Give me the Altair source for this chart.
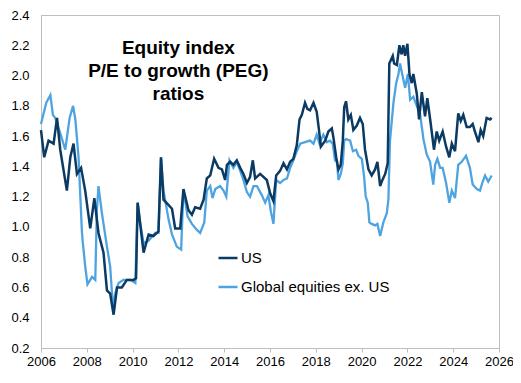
import altair as alt
import pandas as pd

us_years = [2006.00, 2006.14, 2006.33, 2006.55, 2006.70, 2006.84, 2007.13, 2007.28, 2007.42, 2007.57,
            2007.75, 2007.93, 2008.15, 2008.33, 2008.51, 2008.73, 2008.88, 2009.02, 2009.17, 2009.32,
            2009.53, 2009.75, 2010.04, 2010.15, 2010.22, 2010.48, 2010.70, 2010.91, 2011.13, 2011.24,
            2011.35, 2011.72, 2011.86, 2012.08, 2012.22, 2012.44, 2012.59, 2012.73, 2012.95, 2013.10,
            2013.24, 2013.39, 2013.56, 2013.75, 2013.90, 2014.04, 2014.12, 2014.26, 2014.40, 2014.55,
            2014.70, 2014.84, 2014.99, 2015.13, 2015.25, 2015.35, 2015.57, 2015.86, 2016.01, 2016.15,
            2016.27, 2016.44, 2016.59, 2016.74, 2016.88, 2017.02, 2017.17, 2017.29, 2017.39, 2017.53,
            2017.63, 2017.75, 2017.90, 2018.04, 2018.14, 2018.22, 2018.41, 2018.55, 2018.70, 2018.77,
            2018.89, 2018.99, 2019.09, 2019.18, 2019.24, 2019.32, 2019.42, 2019.53, 2019.64, 2019.79,
            2019.93, 2020.05, 2020.15, 2020.30, 2020.44, 2020.59, 2020.69, 2020.81, 2020.88, 2021.03,
            2021.14, 2021.21, 2021.36, 2021.42, 2021.54, 2021.65, 2021.75, 2021.82, 2021.90, 2022.00,
            2022.09, 2022.19, 2022.26, 2022.41, 2022.51, 2022.63, 2022.77, 2022.87, 2023.02, 2023.16,
            2023.28, 2023.39, 2023.54, 2023.69, 2023.83, 2023.94, 2024.08, 2024.22, 2024.33, 2024.44,
            2024.59, 2024.73, 2024.85, 2024.95, 2025.10, 2025.20, 2025.31, 2025.46, 2025.61, 2025.68]
us_vals = [1.64, 1.46, 1.57, 1.55, 1.72, 1.51, 1.24, 1.46, 1.55, 1.35,
           1.39, 1.24, 0.99, 1.19, 0.96, 0.83, 0.58, 0.56, 0.42, 0.60,
           0.60, 0.65, 0.65, 0.66, 1.16, 0.83, 0.95, 0.94, 0.97, 1.46,
           1.18, 1.12, 0.99, 0.99, 1.25, 1.11, 1.08, 1.13, 1.12, 1.18,
           1.32, 1.34, 1.45, 1.39, 1.38, 1.31, 1.41, 1.43, 1.41, 1.44,
           1.39, 1.35, 1.29, 1.33, 1.44, 1.32, 1.35, 1.31, 1.22, 1.17,
           1.34, 1.37, 1.42, 1.38, 1.43, 1.45, 1.54, 1.71, 1.74, 1.82,
           1.78, 1.77, 1.82, 1.76, 1.64, 1.53, 1.57, 1.63, 1.65, 1.59,
           1.46, 1.38, 1.41, 1.57, 1.79, 1.83, 1.71, 1.74, 1.64, 1.67,
           1.72, 1.68, 1.51, 1.38, 1.34, 1.38, 1.43, 1.27, 1.30, 1.35,
           1.42, 2.08, 2.13, 2.08, 2.07, 2.20, 2.14, 2.20, 2.13, 2.21,
           2.01, 1.95, 2.01, 1.88, 1.71, 1.89, 1.73, 1.85, 1.68, 1.51,
           1.63, 1.57, 1.63, 1.53, 1.46, 1.55, 1.50, 1.75, 1.70, 1.74,
           1.66, 1.66, 1.68, 1.63, 1.56, 1.64, 1.60, 1.72, 1.71, 1.72]

gl_years = [2006.00, 2006.23, 2006.41, 2006.52, 2006.62, 2006.84, 2007.06, 2007.25, 2007.40, 2007.50,
            2007.64, 2007.79, 2007.83, 2007.93, 2008.03, 2008.23, 2008.37, 2008.44, 2008.51, 2008.66,
            2008.88, 2009.02, 2009.14, 2009.24, 2009.39, 2009.60, 2009.90, 2010.12, 2010.22, 2010.33,
            2010.48, 2010.70, 2010.99, 2011.13, 2011.24, 2011.35, 2011.57, 2011.72, 2011.93, 2012.12,
            2012.22, 2012.40, 2012.59, 2012.81, 2012.95, 2013.13, 2013.24, 2013.39, 2013.49, 2013.61,
            2013.82, 2013.97, 2014.09, 2014.23, 2014.40, 2014.55, 2014.70, 2014.84, 2014.99, 2015.13,
            2015.28, 2015.43, 2015.64, 2015.79, 2015.93, 2016.04, 2016.15, 2016.27, 2016.44, 2016.59,
            2016.74, 2016.88, 2017.02, 2017.17, 2017.32, 2017.53, 2017.75, 2017.90, 2018.04, 2018.16,
            2018.33, 2018.48, 2018.62, 2018.74, 2018.84, 2018.92, 2018.99, 2019.09, 2019.18, 2019.24,
            2019.32, 2019.50, 2019.62, 2019.76, 2019.86, 2020.01, 2020.11, 2020.18, 2020.27, 2020.34,
            2020.44, 2020.59, 2020.69, 2020.81, 2020.95, 2021.10, 2021.17, 2021.24, 2021.39, 2021.51,
            2021.61, 2021.68, 2021.80, 2021.90, 2022.02, 2022.12, 2022.26, 2022.41, 2022.55, 2022.70,
            2022.84, 2022.99, 2023.13, 2023.21, 2023.31, 2023.43, 2023.54, 2023.69, 2023.83, 2023.94,
            2024.08, 2024.22, 2024.37, 2024.56, 2024.73, 2024.85, 2025.03, 2025.17, 2025.29, 2025.39,
            2025.53, 2025.68]
gl_vals = [1.68, 1.82, 1.87, 1.74, 1.72, 1.62, 1.51, 1.72, 1.80, 1.71,
           1.46, 0.96, 0.89, 0.74, 0.62, 0.67, 0.65, 1.11, 1.27, 1.09,
           0.87, 0.74, 0.47, 0.56, 0.63, 0.65, 0.65, 0.63, 1.16, 1.03,
           0.89, 0.91, 0.96, 0.96, 1.46, 1.24, 1.05, 0.95, 0.87, 0.85,
           1.25, 1.07, 1.02, 0.98, 0.96, 1.03, 1.24, 1.27, 1.19, 1.25,
           1.27, 1.24, 1.20, 1.44, 1.39, 1.43, 1.37, 1.31, 1.23, 1.20,
           1.27, 1.27, 1.21, 1.16, 1.21, 1.10, 1.02, 1.31, 1.29, 1.31,
           1.32, 1.39, 1.44, 1.50, 1.55, 1.56, 1.57, 1.55, 1.61, 1.55,
           1.61, 1.56, 1.57, 1.55, 1.44, 1.43, 1.31, 1.35, 1.42, 1.57,
           1.58, 1.57, 1.50, 1.51, 1.47, 1.45, 1.33, 1.20, 1.16, 1.03,
           1.02, 1.01, 1.02, 0.94, 1.03, 1.09, 1.18, 1.57, 1.82, 1.95,
           2.01, 2.08, 1.99, 1.92, 2.01, 1.84, 1.86, 1.80, 1.75, 1.58,
           1.48, 1.43, 1.28, 1.41, 1.45, 1.39, 1.39, 1.29, 1.16, 1.24,
           1.19, 1.41, 1.43, 1.47, 1.39, 1.28, 1.25, 1.24, 1.30, 1.34,
           1.30, 1.34]

series_names = ["US", "Global equities ex. US"]
series_colors = ["#0B3A63", "#4EA3E1"]
title_lines = "Equity index\nP/E to growth (PEG)\nratios"
x_ticks = [2006, 2008, 2010, 2012, 2014, 2016, 2018, 2020, 2022, 2024, 2026]
y_ticks = [0.2, 0.4, 0.6, 0.8, 1.0, 1.2, 1.4, 1.6, 1.8, 2.0, 2.2, 2.4]

us_df = pd.DataFrame({"year": us_years, "val": us_vals, "series": series_names[0]})
gl_df = pd.DataFrame({"year": gl_years, "val": gl_vals, "series": series_names[1]})
title_df = pd.DataFrame({"year": [2012.0], "val": [2.24], "t": [title_lines]})

FONT = "Liberation Sans"

x_axis = alt.Axis(values=x_ticks, format="d", title=None, grid=False,
                  tickSize=4, labelPadding=3, labelFontSize=13, labelColor="#000000",
                  labelFont=FONT, domainColor="#BDBDBD", tickColor="#BDBDBD",
                  labelOverlap=False, labelFlush=False)
y_axis = alt.Axis(values=y_ticks, format=".1f", title=None, grid=False,
                  ticks=False, labelPadding=12, labelFontSize=13, labelColor="#000000",
                  labelFont=FONT, domainColor="#BDBDBD",
                  labelOverlap=False, labelFlush=False, labelSeparation=0)

x_enc = alt.X("year:Q", scale=alt.Scale(domain=[2006, 2026], nice=False, zero=False), axis=x_axis)
y_enc = alt.Y("val:Q", scale=alt.Scale(domain=[0.2, 2.4], nice=False, zero=False), axis=y_axis)
color_enc = alt.Color("series:N",
                      scale=alt.Scale(domain=series_names, range=series_colors),
                      legend=alt.Legend(title=None, orient="none", legendX=176, legendY=232,
                                        symbolType="stroke", symbolSize=361, symbolStrokeWidth=2.5,
                                        labelFontSize=15, labelFont=FONT, labelColor="#000000",
                                        labelOffset=2, rowPadding=10, padding=0))

gl_line = alt.Chart(gl_df).mark_line(strokeWidth=2.3).encode(x=x_enc, y=y_enc, color=color_enc)
us_line = alt.Chart(us_df).mark_line(strokeWidth=2.5).encode(x=x_enc, y=y_enc, color=color_enc)

title = alt.Chart(title_df).mark_text(
    font=FONT, fontSize=19, fontWeight="bold", color="#000000",
    align="center", baseline="top", lineBreak="\n", lineHeight=23
).encode(x=x_enc, y=y_enc, text="t:N")

chart = alt.layer(gl_line, us_line, title).properties(
    width=458, height=333,
    autosize=alt.AutoSizeParams(type="none"),
    padding={"left": 33, "top": 7, "right": 14, "bottom": 27},
).configure_view(stroke="#BDBDBD", strokeWidth=1)

chart.save("out.html", embed_options={"renderer": "svg", "actions": False})
